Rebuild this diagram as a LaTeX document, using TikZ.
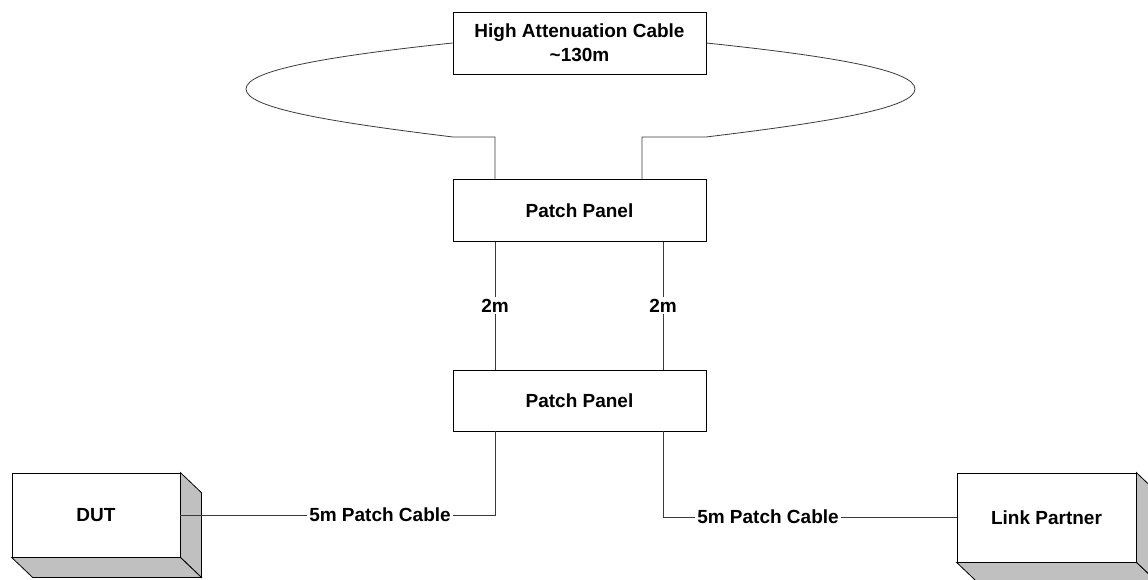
\documentclass[tikz,border=0pt]{standalone}
\usepackage{fontspec}
\setmainfont{Liberation Sans}
\usetikzlibrary{positioning}

\definecolor{sidegray}{HTML}{C0C0C0}
\definecolor{wire}{HTML}{3A3A3A}

\begin{document}
\begin{tikzpicture}[x=1pt,y=-1pt,
    font=\bfseries\fontsize{19}{24}\selectfont]
    \tikzset{PanelStyle/.style = {draw, thick, rectangle, fill=white,
        minimum width=253pt, minimum height=62pt, inner sep=0pt, align=center}}
    \tikzset{DeviceStyle/.style = {draw, thick, rectangle, fill=white, inner sep=0pt}}
    \tikzset{SideStyle/.style = {draw, thick, fill=sidegray}}
    \tikzset{WireStyle/.style = {draw=wire, line width=0.8pt}}
    \tikzset{LabelStyle/.style = {fill=white, inner sep=2pt}}
    \useasboundingbox (0,0) rectangle (1148,580);
    \clip (0,0) rectangle (1148,580);
    % panels
    \node[PanelStyle] (hac) at (579.5,43) {High Attenuation Cable\\\textasciitilde130m};
    \node[PanelStyle] (pp1) at (579.5,210.5) {Patch Panel};
    \node[PanelStyle, minimum height=61pt] (pp2) at (579.5,400.5) {Patch Panel};
    % devices
    \node[DeviceStyle, minimum width=168pt, minimum height=84pt] (dut) at (96,515) {DUT};
    \node[DeviceStyle, minimum width=179pt, minimum height=89pt] (lp) at (1046.5,517.5) {Link Partner};
    \foreach \d in {dut,lp}{
        \path[SideStyle] (\d.north east) -- ++(21,20) -- ([shift={(21,20)}]\d.south east)
            -- (\d.south east) -- cycle;
        \path[SideStyle] (\d.south west) -- ++(21,20) -- ([shift={(21,20)}]\d.south east)
            -- (\d.south east) -- cycle;
    }
    % loop of the long cable
    \coordinate (lt) at (246,89);
    \coordinate (rt) at (915,89);
    \coordinate (lb) at (453,137);
    \coordinate (rb) at (706,137);
    \draw[WireStyle] (hac.west) .. controls (330,56) and (246,70) .. (lt)
        .. controls (246,108) and (330,122) .. (lb) -- (495,137) -- (495,0 |- pp1.north);
    \draw[WireStyle] (hac.east) .. controls (830,56) and (915,70) .. (rt)
        .. controls (915,108) and (830,122) .. (rb) -- (642,137) -- (642,0 |- pp1.north);
    % 2m cables
    \draw[WireStyle] (495,0 |- pp1.south) -- node[LabelStyle] (m1) {2m} (495,0 |- pp2.north);
    \draw[WireStyle] (663,0 |- pp1.south) -- node[LabelStyle] (m2) {2m} (663,0 |- pp2.north);
    % patch cables
    \draw[WireStyle] (dut.east) -| (495,0 |- pp2.south);
    \draw[WireStyle] (lp.west) -| (663,0 |- pp2.south);
    \node[LabelStyle] (c1) at (380,515) {5m Patch Cable};
    \node[LabelStyle] (c2) at (768,517) {5m Patch Cable};
\end{tikzpicture}
\end{document}
